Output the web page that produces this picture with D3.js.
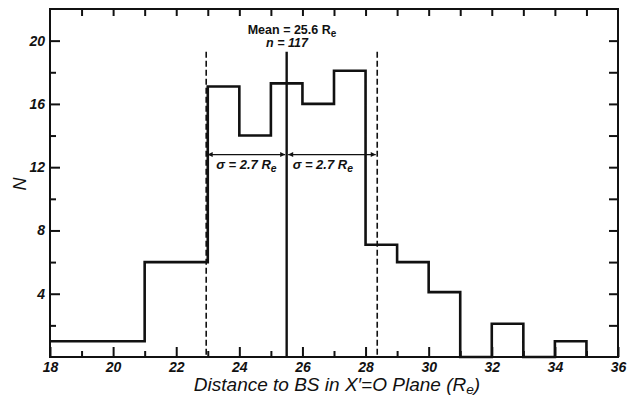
<!DOCTYPE html>
<html>
<head>
<meta charset="utf-8">
<script src="https://cdn.jsdelivr.net/npm/d3@7"></script>
<style>
  body { margin: 0; background: #fff; }
  svg { display: block; }
  text { font-family: "Liberation Sans", Arial, sans-serif; fill: #111; }
  .tick text { font-weight: bold; font-style: italic; font-size: 14px; }
  .domain { display: none; }
</style>
</head>
<body>
<svg width="633" height="398"></svg>
<script>
  // Histogram of distances to the bow shock (counts per bin)
  const binEdges = [18, 21, 23, 24, 25, 26, 27, 28, 29, 30, 31, 32, 33, 34, 35];
  const counts   = [1, 6, 17.1, 14, 17.3, 16, 18.1, 7.1, 6, 4.1, 0, 2.1, 0, 1];

  // Mean and +-1 sigma markers
  const meanPos = 25.5;
  const sigmaLo = 22.95;
  const sigmaHi = 28.37;
  const meanText = "Mean = 25.6 ";
  const nText = "n = 117";
  const sigmaText = "\u03c3 = 2.7 ";

  const xLabelTicks = [18, 20, 22, 24, 26, 28, 30, 32, 34, 36];
  const yLabelTicks = [4, 8, 12, 16, 20];

  // Setting up SVG feats
  const svg = d3.select('svg');
  const margin = { top: 9, left: 50, bottom: 41, right: 15 };
  const width = +svg.attr('width');
  const height = +svg.attr('height');
  const x0 = margin.left, x1 = width - margin.right;
  const y0 = height - margin.bottom, y1 = margin.top;

  const x = d3.scaleLinear().domain([18, 36]).range([x0, x1]);
  const y = d3.scaleLinear().domain([0, 22]).range([y0, y1]);

  const ink = '#111';

  // frame
  svg.append('rect')
     .attr('x', x0).attr('y', y1)
     .attr('width', x1 - x0).attr('height', y0 - y1)
     .attr('fill', 'none').attr('stroke', ink).attr('stroke-width', 2);

  // bottom axis: labelled even ticks, short odd ticks (all inward)
  svg.append('g')
     .attr('transform', `translate(0,${y0})`)
     .call(d3.axisBottom(x).tickValues(xLabelTicks).tickSize(-10).tickPadding(5)
             .tickFormat(d3.format('d')));
  svg.append('g')
     .attr('transform', `translate(0,${y0})`)
     .call(d3.axisBottom(x).tickValues(d3.range(19, 36, 2)).tickSize(-6).tickFormat(''));

  // top axis: every unit
  svg.append('g')
     .attr('transform', `translate(0,${y1})`)
     .call(d3.axisTop(x).tickValues(d3.range(19, 36)).tickSize(-7).tickFormat(''));

  // left axis
  svg.append('g')
     .attr('transform', `translate(${x0},0)`)
     .call(d3.axisLeft(y).tickValues(yLabelTicks).tickSize(-10).tickPadding(5)
             .tickFormat(d3.format('d')));
  svg.append('g')
     .attr('transform', `translate(${x0},0)`)
     .call(d3.axisLeft(y).tickValues([2, 6, 10, 14, 18]).tickSize(-6).tickFormat(''));

  // right axis
  svg.append('g')
     .attr('transform', `translate(${x1},0)`)
     .call(d3.axisRight(y).tickValues(d3.range(2, 21, 2)).tickSize(-9).tickFormat(''));

  svg.selectAll('.tick line').attr('stroke', ink).attr('stroke-width', 2);

  // sigma dashed lines
  [sigmaLo, sigmaHi].forEach(v => {
    svg.append('line')
       .attr('x1', x(v)).attr('x2', x(v))
       .attr('y1', y(19.3)).attr('y2', y0)
       .attr('stroke', ink).attr('stroke-width', 1.6)
       .attr('stroke-dasharray', '6,3');
  });

  // histogram outline
  const pts = binEdges.map((e, i) => [e, i < counts.length ? counts[i] : 0]);
  const step = d3.line()
                 .x(d => x(d[0]))
                 .y(d => y(d[1]))
                 .curve(d3.curveStepAfter);
  svg.append('path')
     .attr('d', step(pts))
     .attr('fill', 'none').attr('stroke', ink)
     .attr('stroke-width', 2.6).attr('stroke-linejoin', 'miter');

  // mean line
  svg.append('line')
     .attr('x1', x(meanPos)).attr('x2', x(meanPos))
     .attr('y1', y(19.3)).attr('y2', y0)
     .attr('stroke', ink).attr('stroke-width', 2.4);

  // sigma arrows
  const defs = svg.append('defs');
  defs.append('marker')
      .attr('id', 'arr').attr('viewBox', '0 0 10 10')
      .attr('refX', 10).attr('refY', 5)
      .attr('markerWidth', 7).attr('markerHeight', 5)
      .attr('markerUnits', 'userSpaceOnUse')
      .attr('orient', 'auto-start-reverse')
      .append('path').attr('d', 'M0,0L10,5L0,10z').attr('fill', ink);

  const arrowY = y(12.8);
  [[sigmaLo, meanPos], [meanPos, sigmaHi]].forEach(seg => {
    svg.append('line')
       .attr('x1', x(seg[0]) + 1.5).attr('x2', x(seg[1]) - 1.5)
       .attr('y1', arrowY).attr('y2', arrowY)
       .attr('stroke', ink).attr('stroke-width', 1.2)
       .attr('marker-start', 'url(#arr)').attr('marker-end', 'url(#arr)');
  });

  function reLabel(sel, base) {
    sel.append('tspan').text(base + 'R');
    sel.append('tspan').attr('dy', 3).attr('font-size', '0.8em').text('e');
  }

  const s1 = svg.append('text')
     .attr('x', (x(sigmaLo) + x(meanPos)) / 2).attr('y', arrowY + 14)
     .attr('text-anchor', 'middle')
     .attr('font-size', 13).attr('font-weight', 'bold').attr('font-style', 'italic');
  reLabel(s1, sigmaText);
  const s2 = svg.append('text')
     .attr('x', x(meanPos) + 6).attr('y', arrowY + 14)
     .attr('font-size', 13).attr('font-weight', 'bold').attr('font-style', 'italic');
  reLabel(s2, sigmaText);

  // mean / n labels
  const m = svg.append('text')
     .attr('x', 292).attr('y', 34)
     .attr('text-anchor', 'middle')
     .attr('font-size', 12.5).attr('font-weight', 'bold');
  reLabel(m, meanText);
  svg.append('text')
     .attr('x', 287).attr('y', 46.5)
     .attr('text-anchor', 'middle')
     .attr('font-size', 12.5).attr('font-weight', 'bold').attr('font-style', 'italic')
     .text(nText);

  // axis titles
  const xt = svg.append('text')
     .attr('x', 337).attr('y', 391)
     .attr('text-anchor', 'middle')
     .attr('font-size', 19).attr('font-style', 'italic');
  xt.append('tspan').text('Distance to BS in X\u2032=O Plane (R');
  xt.append('tspan').attr('dy', 2.5).attr('font-size', '0.72em').text('e');
  xt.append('tspan').attr('dy', -2.5).text(')');

  svg.append('text')
     .attr('transform', 'translate(26,184) rotate(-90)')
     .attr('text-anchor', 'middle')
     .attr('font-size', 18).attr('font-style', 'italic')
     .text('N');
</script>
</body>
</html>
